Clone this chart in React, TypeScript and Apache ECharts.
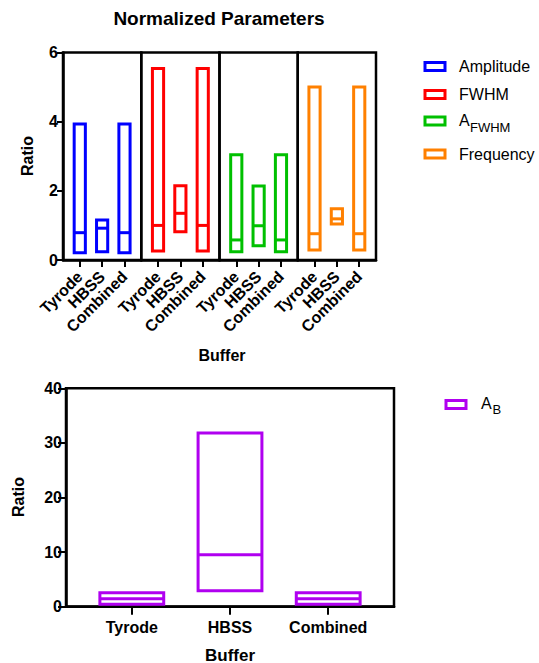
import React, { useEffect, useRef } from "react";
import * as echarts from "echarts";

const categories = ["Tyrode", "HBSS", "Combined"];

const amplitudeLow = [0.21, 0.24, 0.21];
const amplitudeMedian = [0.79, 0.92, 0.79];
const amplitudeHigh = [3.93, 1.16, 3.93];

const fwhmLow = [0.26, 0.82, 0.26];
const fwhmMedian = [1.0, 1.35, 1.0];
const fwhmHigh = [5.54, 2.15, 5.54];

const afwhmLow = [0.24, 0.41, 0.24];
const afwhmMedian = [0.58, 0.99, 0.58];
const afwhmHigh = [3.04, 2.14, 3.04];

const frequencyLow = [0.29, 1.04, 0.29];
const frequencyMedian = [0.76, 1.19, 0.76];
const frequencyHigh = [5.0, 1.48, 5.0];

const abLow = [0.43, 2.9, 0.43];
const abMedian = [1.47, 9.5, 1.47];
const abHigh = [2.56, 31.8, 2.56];

const topTicks = [0, 2, 4, 6];
const bottomTicks = [0, 10, 20, 30, 40];

const FONT = "'Liberation Sans', Arial, Helvetica, sans-serif";

const panels = [
  { name: "Amplitude", color: "#0000FF", low: amplitudeLow, med: amplitudeMedian, high: amplitudeHigh },
  { name: "FWHM", color: "#FF0000", low: fwhmLow, med: fwhmMedian, high: fwhmHigh },
  { name: "AFWHM", color: "#00C000", low: afwhmLow, med: afwhmMedian, high: afwhmHigh },
  { name: "Frequency", color: "#FF8000", low: frequencyLow, med: frequencyMedian, high: frequencyHigh },
];
const abColor = "#B000F0";

function floatingBar(color: string, halfWidth: number) {
  return (params: any, api: any) => {
    const x = api.value(0);
    const lo = api.coord([x - halfWidth, api.value(1)]);
    const hi = api.coord([x + halfWidth, api.value(3)]);
    const med = api.coord([x, api.value(2)]);
    return {
      type: "group",
      children: [
        {
          type: "rect",
          shape: { x: lo[0], y: hi[1], width: hi[0] - lo[0], height: lo[1] - hi[1] },
          style: { fill: "none", stroke: color, lineWidth: 3 },
        },
        {
          type: "line",
          shape: { x1: lo[0], y1: med[1], x2: hi[0], y2: med[1] },
          style: { stroke: color, lineWidth: 3 },
        },
      ],
    };
  };
}

export default function App() {
  const ref = useRef<HTMLDivElement>(null);
  useEffect(() => {
    if (!ref.current) return;
    const chart = echarts.init(ref.current, null, { renderer: "svg" });

    const topLeft = 63;
    const topWidth = 78.25;
    const topTop = 52.5;
    const topHeight = 207.5;

    const grids: any[] = [];
    const xAxes: any[] = [];
    const yAxes: any[] = [];
    const series: any[] = [];

    panels.forEach((p, i) => {
      grids.push({
        left: topLeft + i * topWidth,
        top: topTop,
        width: topWidth,
        height: topHeight,
        show: true,
        borderColor: "#000",
        borderWidth: 2.5,
        containLabel: false,
      });
      xAxes.push({
        gridIndex: i,
        type: "value",
        min: -0.75,
        max: 2.75,
        axisLine: { show: true, onZero: false, lineStyle: { color: "#000", width: 2.5 } },
        axisTick: { show: true, customValues: [0, 1, 2], length: 7, lineStyle: { color: "#000", width: 2 } },
        axisLabel: {
          customValues: [0, 1, 2],
          formatter: (v: number) => categories[Math.round(v)],
          rotate: 45,
          margin: 14,
          fontWeight: "bold",
          fontSize: 16,
          color: "#000",
          fontFamily: FONT,
        },
        splitLine: { show: false },
      });
      yAxes.push({
        gridIndex: i,
        type: "value",
        show: i === 0,
        min: topTicks[0],
        max: topTicks[topTicks.length - 1],
        interval: 2,
        axisLine: { show: true, onZero: false, lineStyle: { color: "#000", width: 2.5 } },
        axisTick: { show: true, length: 6, lineStyle: { color: "#000", width: 2 } },
        axisLabel: { margin: 5, fontWeight: "bold", fontSize: 16, color: "#000", fontFamily: FONT },
        splitLine: { show: false },
      });
      series.push({
        type: "custom",
        name: p.name,
        xAxisIndex: i,
        yAxisIndex: i,
        renderItem: floatingBar(p.color, 0.25),
        data: categories.map((c, k) => [k, p.low[k], p.med[k], p.high[k]]),
        z: 5,
      });
    });

    // bottom chart
    grids.push({
      left: 66,
      top: 388.3,
      width: 328,
      height: 218.4,
      show: true,
      borderColor: "#000",
      borderWidth: 2.5,
    });
    xAxes.push({
      gridIndex: 4,
      type: "value",
      min: -0.67,
      max: 2.67,
      axisLine: { show: true, onZero: false, lineStyle: { color: "#000", width: 2.5 } },
      axisTick: { show: true, customValues: [0, 1, 2], length: 8, lineStyle: { color: "#000", width: 2 } },
      axisLabel: {
        customValues: [0, 1, 2],
        formatter: (v: number) => categories[Math.round(v)],
        margin: 13,
        fontWeight: "bold",
        fontSize: 16,
        color: "#000",
        fontFamily: FONT,
      },
      splitLine: { show: false },
    });
    yAxes.push({
      gridIndex: 4,
      type: "value",
      min: bottomTicks[0],
      max: bottomTicks[bottomTicks.length - 1],
      interval: 10,
      axisLine: { show: true, onZero: false, lineStyle: { color: "#000", width: 2.5 } },
      axisTick: { show: true, length: 8, lineStyle: { color: "#000", width: 2 } },
      axisLabel: { margin: 4, fontWeight: "bold", fontSize: 16, color: "#000", fontFamily: FONT },
      splitLine: { show: false },
    });
    series.push({
      type: "custom",
      name: "AB",
      xAxisIndex: 4,
      yAxisIndex: 4,
      renderItem: floatingBar(abColor, 0.325),
      data: categories.map((c, k) => [k, abLow[k], abMedian[k], abHigh[k]]),
      z: 5,
    });

    const legendYs = [66.5, 94.5, 121, 154];
    const graphic: any[] = [];
    panels.forEach((p, i) => {
      graphic.push({
        type: "rect",
        shape: { x: 425, y: legendYs[i] - 4, width: 20, height: 8 },
        style: { fill: "none", stroke: p.color, lineWidth: 3 },
      });
    });
    const legText = (text: string, x: number, y: number, size: number) => ({
      type: "text",
      x,
      y,
      style: { text, fontSize: size, fontFamily: FONT, fill: "#000", verticalAlign: "middle", align: "left" },
    });
    graphic.push(legText("Amplitude", 459, legendYs[0], 16));
    graphic.push(legText("FWHM", 459, legendYs[1], 16));
    graphic.push(legText("A", 459, legendYs[2] - 1, 16));
    graphic.push(legText("FWHM", 470, legendYs[2] + 6, 13));
    graphic.push(legText("Frequency", 459, legendYs[3], 16));
    // bottom legend
    graphic.push({
      type: "rect",
      shape: { x: 446, y: 400.5, width: 20, height: 8 },
      style: { fill: "none", stroke: abColor, lineWidth: 3 },
    });
    graphic.push(legText("A", 481, 403, 16));
    graphic.push(legText("B", 492.5, 409, 13));

    const boldText = (text: string, x: number, y: number, size: number, rotation = 0) => ({
      type: "text",
      x,
      y,
      rotation,
      style: {
        text,
        fontSize: size,
        fontWeight: "bold",
        fontFamily: FONT,
        fill: "#000",
        align: "center",
        verticalAlign: "middle",
      },
    });
    graphic.push(boldText("Normalized Parameters", 219, 18, 19));
    graphic.push(boldText("Ratio", 27, 156, 16, Math.PI / 2));
    graphic.push(boldText("Buffer", 222, 355, 16));
    graphic.push(boldText("Ratio", 18, 497, 16, Math.PI / 2));
    graphic.push(boldText("Buffer", 230, 655, 17));

    chart.setOption({
      animation: false,
      backgroundColor: "#fff",
      grid: grids,
      xAxis: xAxes,
      yAxis: yAxes,
      series,
      graphic,
    });
    return () => chart.dispose();
  }, []);
  return (
    <div
      ref={ref}
      style={{ position: "fixed", left: 0, top: 0, width: 539, height: 663 }}
    />
  );
}
